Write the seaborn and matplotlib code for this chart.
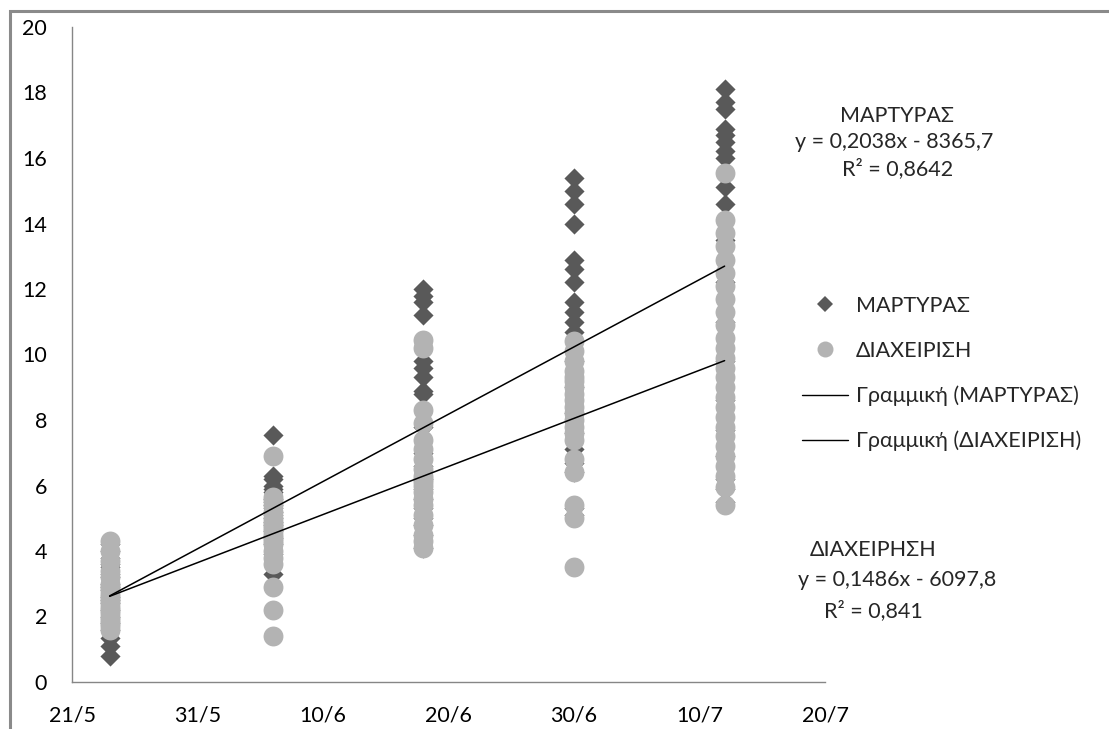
import numpy as np
import pandas as pd
import matplotlib
matplotlib.use("Agg")
import matplotlib.pyplot as plt
import matplotlib.dates as mdates
from matplotlib.lines import Line2D
from matplotlib.patches import Rectangle
import seaborn as sns

# sampling dates
dates = ["2012-05-24", "2012-06-06", "2012-06-18", "2012-06-30", "2012-07-12"]

# ΜΑΡΤΥΡΑΣ values per date
martyras_24_5 = [0.8, 1.1, 1.35, 1.6, 1.8, 2.0, 2.2, 2.4, 2.5, 2.6, 2.8, 2.9, 3.0, 3.2, 3.3, 3.5, 3.6, 3.8, 4.0, 4.2]
martyras_6_6 = [7.55, 6.3, 6.2, 6.0, 5.9, 5.8, 5.6, 5.5, 5.4, 5.3, 5.2, 5.1, 5.0, 4.9, 4.8, 4.6, 4.4, 4.2, 3.9, 3.3]
martyras_18_6 = [12.0, 11.8, 11.6, 11.2, 9.8, 9.6, 9.3, 8.9, 8.8, 7.8, 7.0, 6.6, 6.2, 5.9, 5.6, 5.3, 5.0, 4.8, 4.5, 4.1]
martyras_30_6 = [15.4, 15.0, 14.6, 14.0, 12.9, 12.6, 12.2, 11.6, 11.3, 11.0, 10.7, 9.8, 9.0, 8.2, 7.6, 7.1, 6.7, 6.4, 5.3, 5.1]
martyras_12_7 = [18.1, 17.7, 17.5, 16.9, 16.7, 16.5, 16.2, 16.0, 15.1, 14.6, 13.5, 12.2, 11.0, 9.8, 8.6, 7.7, 6.9, 6.2, 5.9, 5.5]

# ΔΙΑΧΕΙΡΙΣΗ values per date
diax_24_5 = [1.6, 1.7, 1.8, 1.9, 2.0, 2.1, 2.2, 2.3, 2.4, 2.5, 2.6, 2.7, 2.8, 2.9, 3.0, 3.2, 3.4, 3.7, 4.0, 4.3]
diax_6_6 = [6.9, 5.65, 5.55, 5.4, 5.2, 5.0, 4.9, 4.8, 4.7, 4.6, 4.5, 4.4, 4.3, 4.2, 4.0, 3.8, 3.6, 2.9, 2.2, 1.4]
diax_18_6 = [10.45, 10.2, 8.3, 7.9, 7.4, 7.1, 6.8, 6.5, 6.3, 6.1, 6.2, 6.0, 5.8, 5.6, 5.4, 5.1, 4.8, 4.5, 4.3, 4.1]
diax_30_6 = [10.4, 10.1, 9.8, 9.5, 9.3, 9.2, 9.0, 8.8, 8.6, 8.4, 8.2, 8.0, 7.8, 7.6, 7.4, 6.8, 6.4, 5.4, 5.0, 3.5]
diax_12_7 = [15.55, 14.1, 13.7, 13.3, 12.9, 12.5, 12.1, 11.7, 11.3, 10.9, 10.5, 10.2, 9.9, 9.6, 9.3,
             9.0, 8.7, 8.4, 8.1, 7.8, 7.5, 7.2, 6.9, 6.6, 6.3, 5.95, 5.4]

tick_dates = ["2012-05-21", "2012-05-31", "2012-06-10", "2012-06-20", "2012-06-30", "2012-07-10", "2012-07-20"]

label_m = "ΜΑΡΤΥΡΑΣ"
label_d = "ΔΙΑΧΕΙΡΙΣΗ"


def to_frame(columns):
    rows = []
    for d, vals in zip(dates, columns):
        for v in vals:
            rows.append((pd.Timestamp(d), v))
    return pd.DataFrame(rows, columns=["date", "value"])


df_m = to_frame([martyras_24_5, martyras_6_6, martyras_18_6, martyras_30_6, martyras_12_7])
df_d = to_frame([diax_24_5, diax_6_6, diax_18_6, diax_30_6, diax_12_7])

sns.set_style("white")
plt.rcParams["font.family"] = ["Lato", "DejaVu Sans"]
W, H = 1109, 729
fig = plt.figure(figsize=(W / 100, H / 100), dpi=100)
ax = fig.add_axes([72 / W, 1 - 682 / H, (825 - 72) / W, (682 - 27) / H])

dark = "#595959"
light = "#b3b3b3"

sns.scatterplot(data=df_m, x="date", y="value", marker="D", s=105, color=dark,
                linewidth=0, ax=ax, zorder=2)
sns.scatterplot(data=df_d, x="date", y="value", marker="o", s=205, color=light,
                linewidth=0, ax=ax, zorder=3)

# linear trend lines
for df in (df_m, df_d):
    xn = mdates.date2num(df["date"])
    k, b = np.polyfit(xn, df["value"], 1)
    xs = np.array([xn.min(), xn.max()])
    ax.plot(mdates.num2date(xs), k * xs + b, color="black", lw=1.1, zorder=4)

ax.set_xlim(pd.Timestamp(tick_dates[0]), pd.Timestamp(tick_dates[-1]))
ax.set_ylim(0, 20)
ax.set_yticks(range(0, 21, 2))
ticks = [pd.Timestamp(t) for t in tick_dates]
ax.set_xticks(ticks)
ax.set_xticklabels([f"{t.day}/{t.month}" for t in ticks])
ax.set_xlabel("")
ax.set_ylabel("")
ax.tick_params(axis="both", length=0, labelsize=15.5, colors="black")
ax.tick_params(axis="y", pad=18)
ax.tick_params(axis="x", pad=17)
for side in ("top", "right"):
    ax.spines[side].set_visible(False)
for side in ("left", "bottom"):
    ax.spines[side].set_color("#868686")
    ax.spines[side].set_linewidth(1.0)

handles = [
    Line2D([], [], marker="D", linestyle="none", markersize=8.1, color=dark, markeredgewidth=0),
    Line2D([], [], marker="o", linestyle="none", markersize=11.5, color=light, markeredgewidth=0),
    Line2D([], [], color="black", lw=1.0),
    Line2D([], [], color="black", lw=1.0),
]
labels = [label_m, label_d, f"Γραμμική ({label_m})", f"Γραμμική ({label_d})"]
fig.legend(handles, labels, loc="upper left", bbox_to_anchor=(802 / W, 1 - 296 / H),
           bbox_transform=fig.transFigure, frameon=False, fontsize=15.5,
           handlelength=2.15, handletextpad=0.35, labelspacing=1.15,
           borderpad=0, borderaxespad=0)

def ftext(x, y, s):
    fig.text(x / W, 1 - y / H, s, ha="center", va="center", fontsize=15.5)

ftext(897, 116, "ΜΑΡΤΥΡΑΣ")
ftext(894, 142, "y = 0,2038x - 8365,7")
ftext(898, 169, "R² = 0,8642")
ftext(873, 550, "ΔΙΑΧΕΙΡΗΣΗ")
ftext(897, 580, "y = 0,1486x - 6097,8")
ftext(873, 611, "R² = 0,841")

# outer chart frame (cropped on right/bottom)
fig.patches.append(Rectangle((10 / W, -0.1), 1.2, 1.1 - 11 / H,
                             transform=fig.transFigure, fill=False,
                             edgecolor="#8a8a8a", linewidth=2.2))

fig.savefig("out.png", dpi=100)
